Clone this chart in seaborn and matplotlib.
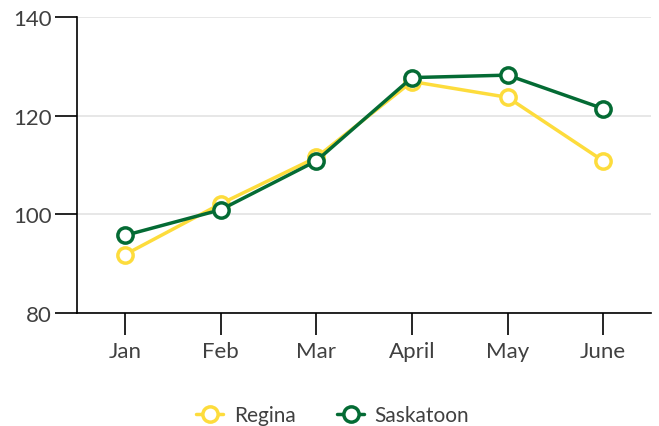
import pandas as pd
import matplotlib.pyplot as plt
import seaborn as sns

# valores
months = ["Jan", "Feb", "Mar", "April", "May", "June"]
regina = [91.8, 102.1, 111.5, 126.9, 123.7, 110.8]
saskatoon = [95.7, 100.9, 110.8, 127.7, 128.2, 121.4]
cities = ["Regina", "Saskatoon"]
colors = ["#FDDC3C", "#046B34"]

df = pd.DataFrame({"Month": months * 2,
                   "City": ["Regina"] * 6 + ["Saskatoon"] * 6,
                   "Value": regina + saskatoon})

sns.set_style("ticks")
plt.rcParams['font.family'] = ['Lato', 'DejaVu Sans']

fig = plt.figure(figsize=(6.59, 4.27), dpi=100)
ax = fig.add_axes([0.117, 0.265, 0.871, 0.693])

# una linea por ciudad para controlar el color del borde del marcador
for city, col in zip(cities, colors):
    sub = df[df["City"] == city]
    sns.lineplot(data=sub, x="Month", y="Value", color=col, label=city,
                 sort=False, marker="o", markersize=11,
                 markerfacecolor="white", markeredgecolor=col,
                 markeredgewidth=2.5, linewidth=2.5, ax=ax)

ax.set_ylim(80, 140)
ax.set_yticks([80, 100, 120, 140])
ax.set_xlim(-0.5, 5.5)
ax.grid(axis="y", color="#E3E3E3", linewidth=1.2)
ax.set_axisbelow(True)
ax.set_xlabel("")
ax.set_ylabel("")

for s in ["top", "right"]:
    ax.spines[s].set_visible(False)
for s in ["left", "bottom"]:
    ax.spines[s].set_color("#000000")
    ax.spines[s].set_linewidth(1.2)

ax.tick_params(axis="both", which="major", length=16, width=1.2,
               color="#000000", labelsize=16, labelcolor="#404040",
               direction="out")
ax.tick_params(axis="x", pad=4)
ax.tick_params(axis="y", pad=2)

# leyenda abajo
handles, labels = ax.get_legend_handles_labels()
ax.legend(handles, labels, loc="center", ncol=2, frameon=False,
          fontsize=15, labelcolor="#404040", handlelength=1.3,
          handletextpad=0.5, columnspacing=2.0,
          bbox_to_anchor=(0.505, 0.025), bbox_transform=fig.transFigure)

fig.savefig("out.png", dpi=100)
